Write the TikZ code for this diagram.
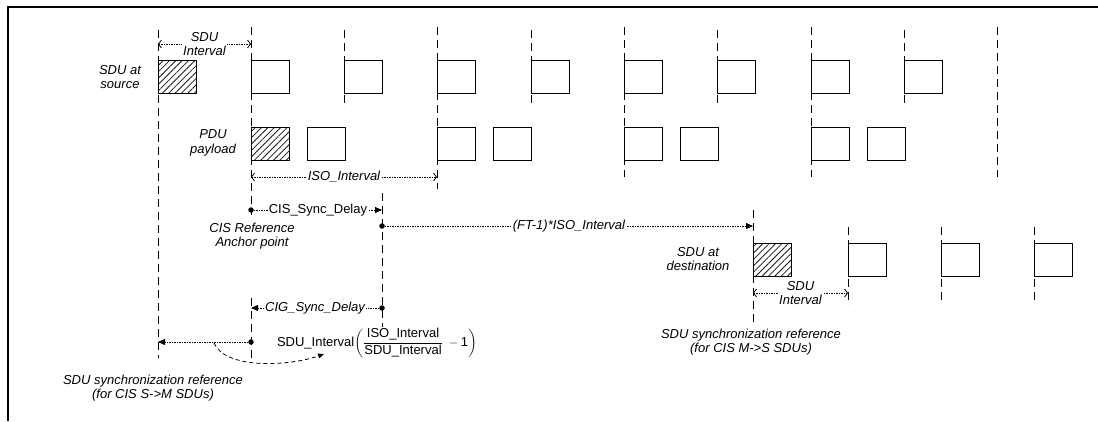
\documentclass[tikz,border=0pt]{standalone}
\usepackage{amsmath}
\usepackage{fontspec}
\setmainfont{Liberation Sans}
\usepackage{tikz}
\usetikzlibrary{arrows.meta,patterns.meta}

\begin{document}
\begin{tikzpicture}[x=1pt,y=-1pt,
  font=\fontsize{13}{14.5}\selectfont,
  tickline/.style={line width=0.9pt,dash pattern=on 8pt off 5pt},
  sdubox/.style={draw,line width=1.1pt,minimum width=38pt,minimum height=33pt,inner sep=0pt,anchor=north west},
  hatched/.style={sdubox,pattern={Lines[angle=45,distance=4.5pt,line width=0.8pt]},pattern color=black!90},
  dimline/.style={line width=0.8pt,dash pattern=on 1.5pt off 1pt},
  bothbarb/.style={{Straight Barb[length=3pt,width=8pt]}-{Straight Barb[length=3pt,width=8pt]}},
  tofill/.style={-{Triangle[length=7pt,width=6pt]}},
  dotnode/.style={circle,fill,inner sep=0pt,minimum size=5.5pt},
  lbl/.style={fill=white,inner sep=1pt},
  txt/.style={align=center,font=\fontsize{13}{14.5}\selectfont\itshape}]
\useasboundingbox (0,0) rectangle (1098,421);
\draw[line width=2pt] (8,421) -- (8,7) -- (1098,7);

\draw[tickline] (158,30) -- (158,358);
\draw[tickline] (251,27) -- (251,215);
\draw[tickline] (251,298) -- (251,358);
\draw[tickline] (344,30) -- (344,108);
\draw[tickline] (437,27) -- (437,189);
\draw[tickline] (531,30) -- (531,108);
\draw[tickline] (624,27) -- (624,177);
\draw[tickline] (717,30) -- (717,108);
\draw[tickline] (811,27) -- (811,177);
\draw[tickline] (904,30) -- (904,108);
\draw[tickline] (997,27) -- (997,177);
\draw[tickline] (382,193) -- (382,327);
\draw[tickline] (753,210) -- (753,325);
\draw[tickline] (848,227) -- (848,305);
\draw[tickline] (941,227) -- (941,305);
\draw[tickline] (1034,227) -- (1034,305);

\node[hatched] (src0) at (158,60) {};
\node[sdubox] (src1) at (251,60) {};
\node[sdubox] (src2) at (344,60) {};
\node[sdubox] (src3) at (437,60) {};
\node[sdubox] (src4) at (531,60) {};
\node[sdubox] (src5) at (624,60) {};
\node[sdubox] (src6) at (717,60) {};
\node[sdubox] (src7) at (811,60) {};
\node[sdubox] (src8) at (904,60) {};

\node[hatched] (pdu0) at (251,127) {};
\node[sdubox] (pdu1) at (307,127) {};
\node[sdubox] (pdu2) at (437,127) {};
\node[sdubox] (pdu3) at (493,127) {};
\node[sdubox] (pdu4) at (624,127) {};
\node[sdubox] (pdu5) at (680,127) {};
\node[sdubox] (pdu6) at (811,127) {};
\node[sdubox] (pdu7) at (867,127) {};

\node[hatched] (dst0) at (753,243) {};
\node[sdubox] (dst1) at (848,243) {};
\node[sdubox] (dst2) at (941,243) {};
\node[sdubox] (dst3) at (1034,243) {};

\node[txt] (srclbl) at (120,77) {SDU at\\source};
\node[txt] (pdulbl) at (213,143) {PDU\\payload};
\node[txt] (anchorlbl) at (252,236) {CIS Reference\\Anchor point};
\node[txt] (dstlbl) at (698,259) {SDU at\\destination};
\node[txt] (smref) at (153,388) {SDU synchronization reference\\(for CIS S->M SDUs)};
\node[txt] (msref) at (751,342) {SDU synchronization reference\\(for CIS M->S SDUs)};
\node at (377,343) (formula) {SDU\_Interval$\biggl(\dfrac{\text{ISO\_Interval}}{\text{SDU\_Interval}}\;-\text{1}\biggr)$};

\coordinate (sdua) at (158,44);
\coordinate (sdub) at (251,44);
\draw[dimline,bothbarb] (sdua) -- (sdub) node[midway,lbl,txt] {SDU\\Interval};
\coordinate (isoa) at (251,177);
\coordinate (isob) at (437,177);
\draw[dimline,bothbarb] (isoa) -- (isob) node[midway,lbl,txt] {ISO\_Interval};
\coordinate (dsta) at (753,293);
\coordinate (dstb) at (848,293);
\draw[dimline,bothbarb] (dsta) -- (dstb) node[midway,lbl,txt] {SDU\\Interval};

\node[dotnode] (anchorpt) at (251,210) {};
\coordinate (csdend) at (382,210);
\draw[dimline,tofill] (anchorpt) -- (csdend) node[midway,lbl] {CIS\_Sync\_Delay};
\node[dotnode] (ftpt) at (382,226) {};
\coordinate (ftend) at (753,226);
\draw[dimline,tofill] (ftpt) -- (ftend) node[midway,lbl,txt] {(FT-1)*ISO\_Interval};
\node[dotnode] (cigpt) at (382,308) {};
\coordinate (cigend) at (251,308);
\draw[dimline,tofill] (cigpt) -- (cigend) node[midway,lbl,txt] {CIG\_Sync\_Delay};
\node[dotnode] (syncpt) at (251,342) {};
\coordinate (syncend) at (158,342);
\draw[dimline,tofill] (syncpt) -- (syncend);
\coordinate (curvebeg) at (214,343);
\coordinate (curveend) at (324,354);
\draw[line width=0.8pt,dash pattern=on 4pt off 3pt,-{Triangle[length=6pt,width=5pt]}] (curvebeg) .. controls (226,370) and (290,366) .. (curveend);
\end{tikzpicture}
\end{document}
